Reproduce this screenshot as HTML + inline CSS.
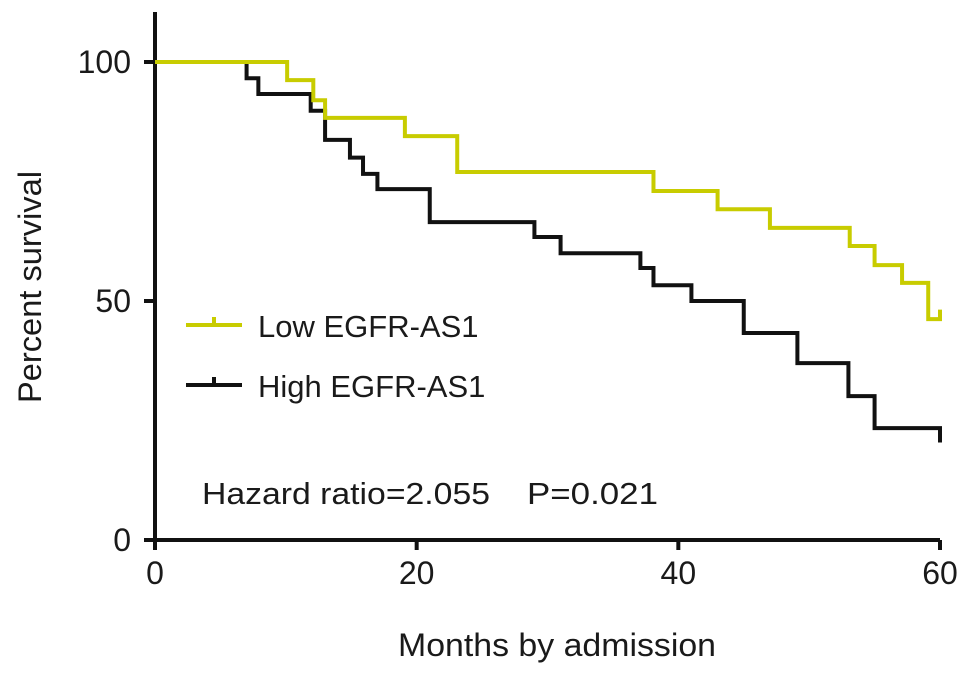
<!DOCTYPE html>
<html><head><meta charset="utf-8"><style>
body{margin:0;background:#fff;width:969px;height:676px;overflow:hidden}
text{font-family:"Liberation Sans",Arial,sans-serif;fill:#1a1a1a}
</style></head><body>
<svg id="chart" width="969" height="676" viewBox="0 0 969 676">
<g id="axes"></g><g id="series"></g>
<g>
<g>
<path d="M186 325 H242 M214 325 V317" stroke="#c8cc00" stroke-width="4" fill="none"/>
<text x="258" y="337" font-size="31">Low EGFR-AS1</text></g>
<g>
<path d="M186 385 H242 M214 385 V377" stroke="#111" stroke-width="4" fill="none"/>
<text x="258" y="397" font-size="31">High EGFR-AS1</text></g>
</g>
<text x="202" y="504" font-size="31" textLength="288" lengthAdjust="spacingAndGlyphs">Hazard ratio=2.055</text>
<text x="527" y="504" font-size="31" textLength="131" lengthAdjust="spacingAndGlyphs">P=0.021</text>
<text x="557" y="656" font-size="32" text-anchor="middle" textLength="318" lengthAdjust="spacingAndGlyphs">Months by admission</text>
<text transform="translate(41,287) rotate(-90)" font-size="32" text-anchor="middle" textLength="232" lengthAdjust="spacingAndGlyphs">Percent survival</text>
</svg>
<script>
const xTicks=[0,20,40,60];
const yTicks=[0,50,100];
const lowTimes=[0,10.1,12.1,13,19.1,23.1,38.1,43,47,53.1,55,57.1,59.1];
const lowSurv=[100,96.2,92,88.3,84.5,77,73,69.2,65.3,61.5,57.5,53.8,46.2];
const highTimes=[0,7,7.9,11.9,13,14.9,15.9,17,21,29,31,37.1,38.1,41,45,49.1,53,55];
const highSurv=[100,96.6,93.3,89.8,83.7,80,76.6,73.4,66.5,63.4,60,56.9,53.3,50,43.3,37,30.1,23.4];
const endTime=60;
const sx=m=>155+m*(785/60), sy=v=>540-v*4.78;
const NS="http://www.w3.org/2000/svg";
const axes=document.getElementById('axes'), series=document.getElementById('series');
function mk(tag,attrs,parent){const e=document.createElementNS(NS,tag);for(const k in attrs)e.setAttribute(k,attrs[k]);parent.appendChild(e);return e;}
let a=mk('path',{d:`M155 12 V548 M146 540 H940`,stroke:'#111','stroke-width':4,fill:'none'},axes);


xTicks.forEach(t=>{
 const l=mk('line',{x1:sx(t),x2:sx(t),y1:540,y2:550,stroke:'#111','stroke-width':4},axes);
 
 
 const tx=mk('text',{x:sx(t),y:584,'font-size':32,'text-anchor':'middle'},axes);tx.textContent=t;
 
 
});
yTicks.forEach(t=>{
 const l=mk('line',{x1:144,x2:155,y1:sy(t),y2:sy(t),stroke:'#111','stroke-width':4},axes);
 
 
 const tx=mk('text',{x:131,y:sy(t)+11,'font-size':32,'text-anchor':'end'},axes);tx.textContent=t;
 
 
});
function stepPath(ts,vs,end){let d=`M${sx(ts[0])} ${sy(vs[0])}`;for(let i=1;i<ts.length;i++){d+=` H${sx(ts[i])} V${sy(vs[i])}`;}d+=` H${sx(end)}`;return d;}
const lowEnd=lowSurv[lowSurv.length-1], highEnd=highSurv[highSurv.length-1];
let p2=mk('path',{d:stepPath(highTimes,highSurv,endTime)+` V${sy(highEnd-3)}`,stroke:'#111','stroke-width':4,fill:'none'},series);


let p1=mk('path',{d:stepPath(lowTimes,lowSurv,endTime)+` V${sy(lowEnd+2)}`,stroke:'#c8cc00','stroke-width':4,fill:'none'},series);


</script>
</body></html>
